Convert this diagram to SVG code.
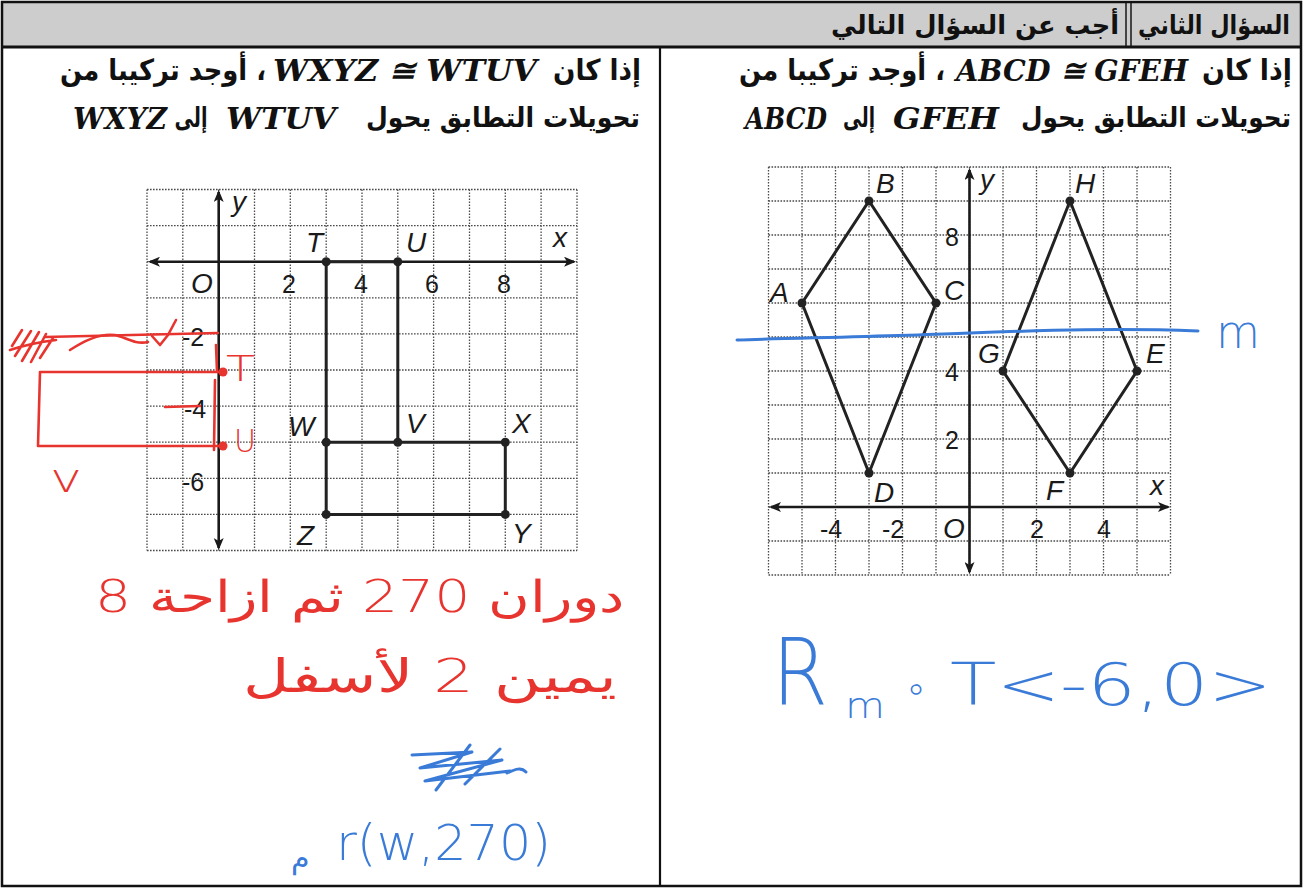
<svg xmlns="http://www.w3.org/2000/svg" width="1304" height="889" viewBox="0 0 1304 889">
<defs>
<marker id="ah" viewBox="0 0 12 10" refX="10" refY="5" markerWidth="12" markerHeight="10" markerUnits="userSpaceOnUse" orient="auto-start-reverse"><path d="M0,0 L12,5 L0,10 L3,5 z" fill="#1a1a1a"/></marker>
</defs>
<style>
.ar{font-family:"DejaVu Sans Condensed","DejaVu Sans",sans-serif;font-weight:bold;fill:#111;direction:rtl;text-anchor:middle}
.lat{font-family:"DejaVu Serif",serif;font-style:italic;font-weight:bold;fill:#111}
.grid{stroke:#4a4a4a;stroke-width:1.3;stroke-dasharray:1.6 1.4;fill:none}
.axis{stroke:#1a1a1a;stroke-width:2.6;fill:none}
.edge{stroke:#222;stroke-width:3;fill:none;stroke-linecap:round}
.dot{fill:#222}
.lbl{font-family:"Liberation Sans",Arial,sans-serif;font-style:italic;font-size:28px;fill:#1a1a1a}
.num{font-family:"Liberation Sans",Arial,sans-serif;font-size:25px;fill:#1a1a1a}
.red{stroke:#e8342f;stroke-width:2.6;fill:none;stroke-linecap:round;stroke-linejoin:round}
.redt{font-family:"DejaVu Sans",sans-serif;font-weight:200;fill:#e8342f}
.blue{stroke:#3b7bd8;stroke-width:3;fill:none;stroke-linecap:round;stroke-linejoin:round}
.bluet{font-family:"DejaVu Sans",sans-serif;font-weight:200;fill:#3b7bd8}
.frame{stroke:#111;fill:none}
</style>
<rect x="0" y="0" width="1304" height="889" fill="#ffffff"/>

<g id="header">
<rect x="3" y="3" width="1297" height="43" fill="#cdcdcd"/>
<line x1="1126" y1="3" x2="1126" y2="46" stroke="#222" stroke-width="1.6"/>
<line x1="1131" y1="3" x2="1131" y2="46" stroke="#222" stroke-width="1.6"/>
<text class="ar" x="1214" y="34" font-size="26" textLength="152" lengthAdjust="spacingAndGlyphs">السؤال الثاني</text>
<text class="ar" x="975" y="34" font-size="26" textLength="288" lengthAdjust="spacingAndGlyphs">أجب عن السؤال التالي</text>
</g>

<g id="frame">
<rect class="frame" x="2" y="2" width="1299" height="884" stroke-width="2.5"/>
<line x1="2" y1="47" x2="1301" y2="47" stroke="#111" stroke-width="3"/>
<line x1="660" y1="47" x2="660" y2="886" stroke="#111" stroke-width="2.2"/>
</g>

<g id="question-left">
<text class="ar" x="597" y="80" font-size="29" textLength="88" lengthAdjust="spacingAndGlyphs">إذا كان</text>
<text class="lat" x="273" y="81" font-size="30" textLength="264" lengthAdjust="spacingAndGlyphs">WXYZ ≅ WTUV</text>
<text class="ar" x="163" y="80" font-size="29" textLength="206" lengthAdjust="spacingAndGlyphs">، أوجد تركيبا من</text>
<text class="ar" x="503" y="127" font-size="27" textLength="274" lengthAdjust="spacingAndGlyphs">تحويلات التطابق يحول</text>
<text class="lat" x="226" y="129" font-size="30" textLength="110" lengthAdjust="spacingAndGlyphs">WTUV</text>
<text class="ar" x="191" y="127" font-size="27" textLength="33" lengthAdjust="spacingAndGlyphs">إلى</text>
<text class="lat" x="73" y="129" font-size="30" textLength="94" lengthAdjust="spacingAndGlyphs">WXYZ</text>
</g>

<g id="question-right">
<text class="ar" x="1247" y="80" font-size="29" textLength="90" lengthAdjust="spacingAndGlyphs">إذا كان</text>
<text class="lat" x="956" y="81" font-size="30" textLength="232" lengthAdjust="spacingAndGlyphs">ABCD ≅ GFEH</text>
<text class="ar" x="842" y="80" font-size="29" textLength="206" lengthAdjust="spacingAndGlyphs">، أوجد تركيبا من</text>
<text class="ar" x="1156" y="127" font-size="27" textLength="270" lengthAdjust="spacingAndGlyphs">تحويلات التطابق يحول</text>
<text class="lat" x="893" y="129" font-size="30" textLength="106" lengthAdjust="spacingAndGlyphs">GFEH</text>
<text class="ar" x="859" y="127" font-size="27" textLength="32" lengthAdjust="spacingAndGlyphs">إلى</text>
<text class="lat" x="745" y="129" font-size="30" textLength="82" lengthAdjust="spacingAndGlyphs">ABCD</text>
</g>

<g id="grid-left">
<path class="grid" d="M147,189.5V550.5M182.8,189.5V550.5M218.7,189.5V550.5M254.5,189.5V550.5M290.3,189.5V550.5M326.2,189.5V550.5M362,189.5V550.5M397.8,189.5V550.5M433.6,189.5V550.5M469.5,189.5V550.5M505.3,189.5V550.5M541.1,189.5V550.5M577,189.5V550.5M147,189.5H577M147,225.6H577M147,261.7H577M147,297.8H577M147,333.9H577M147,370H577M147,406.1H577M147,442.2H577M147,478.3H577M147,514.4H577M147,550.5H577"/>
<path class="axis" d="M150,261.7H574" marker-start="url(#ah)" marker-end="url(#ah)"/>
<path class="axis" d="M218.7,192V548" marker-start="url(#ah)" marker-end="url(#ah)"/>
<text class="lbl" x="232" y="211">y</text>
<text class="lbl" x="553" y="247">x</text>
<text class="lbl" x="191" y="293">O</text>
<text class="num" x="282" y="293">2</text>
<text class="num" x="354" y="293">4</text>
<text class="num" x="425" y="293">6</text>
<text class="num" x="497" y="293">8</text>
<text class="num" x="182" y="346">-2</text>
<text class="num" x="184" y="418">-4</text>
<text class="num" x="182" y="491">-6</text>
</g>

<g id="grid-right">
<path class="grid" d="M768.5,167V575M802,167V575M835.5,167V575M869,167V575M902.5,167V575M936,167V575M969.5,167V575M1003,167V575M1036.5,167V575M1070,167V575M1103.5,167V575M1137,167V575M1170.5,167V575M768.5,167H1170.5M768.5,201H1170.5M768.5,235H1170.5M768.5,269H1170.5M768.5,303H1170.5M768.5,337H1170.5M768.5,371H1170.5M768.5,405H1170.5M768.5,439H1170.5M768.5,473H1170.5M768.5,507H1170.5M768.5,541H1170.5M768.5,575H1170.5"/>
<path class="axis" d="M771,507H1168" marker-start="url(#ah)" marker-end="url(#ah)"/>
<path class="axis" d="M969.5,170V572" marker-start="url(#ah)" marker-end="url(#ah)"/>
<text class="lbl" x="980" y="189">y</text>
<text class="lbl" x="1150" y="495">x</text>
<text class="num" x="945" y="246">8</text>
<text class="num" x="945" y="381">4</text>
<text class="num" x="945" y="449">2</text>
<text class="num" x="820" y="538">-4</text>
<text class="num" x="882" y="538">-2</text>
<text class="lbl" x="943" y="538">O</text>
<text class="num" x="1030" y="538">2</text>
<text class="num" x="1097" y="538">4</text>
</g>

<g id="connectors">
<path class="edge" d="M326.2,261.7H397.8V442.2H505.3V514.4H326.2Z"/>
<path class="edge" d="M326.2,442.2H397.8"/>
<path class="edge" d="M802,303L869,201L936,303L869,473Z"/>
<path class="edge" d="M1003,371L1070,201L1137,371L1070,473Z"/>
</g>

<g id="node-T"><circle class="dot" cx="326.2" cy="261.7" r="4.5"/><text class="lbl" x="306" y="252">T</text></g>
<g id="node-U"><circle class="dot" cx="397.8" cy="261.7" r="4.5"/><text class="lbl" x="406" y="252">U</text></g>
<g id="node-W"><circle class="dot" cx="326.2" cy="442.2" r="4.5"/><text class="lbl" x="288" y="436">W</text></g>
<g id="node-V"><circle class="dot" cx="397.8" cy="442.2" r="4.5"/><text class="lbl" x="406" y="433">V</text></g>
<g id="node-X"><circle class="dot" cx="505.3" cy="442.2" r="4.5"/><text class="lbl" x="512" y="433">X</text></g>
<g id="node-Y"><circle class="dot" cx="505.3" cy="514.4" r="4.5"/><text class="lbl" x="512" y="543">Y</text></g>
<g id="node-Z"><circle class="dot" cx="326.2" cy="514.4" r="4.5"/><text class="lbl" x="297" y="545">Z</text></g>

<g id="node-A"><circle class="dot" cx="802" cy="303" r="4.5"/><text class="lbl" x="770" y="302">A</text></g>
<g id="node-B"><circle class="dot" cx="869" cy="201" r="4.5"/><text class="lbl" x="876" y="193">B</text></g>
<g id="node-C"><circle class="dot" cx="936" cy="303" r="4.5"/><text class="lbl" x="944" y="300">C</text></g>
<g id="node-D"><circle class="dot" cx="869" cy="473" r="4.5"/><text class="lbl" x="874" y="502">D</text></g>
<g id="node-G"><circle class="dot" cx="1003" cy="371" r="4.5"/><text class="lbl" x="978" y="363">G</text></g>
<g id="node-H"><circle class="dot" cx="1070" cy="201" r="4.5"/><text class="lbl" x="1075" y="193">H</text></g>
<g id="node-E"><circle class="dot" cx="1137" cy="371" r="4.5"/><text class="lbl" x="1146" y="363">E</text></g>
<g id="node-F"><circle class="dot" cx="1070" cy="473" r="4.5"/><text class="lbl" x="1046" y="500">F</text></g>

<g id="line-m">
<path class="blue" d="M737,340C800,338 900,336 970,333C1050,330 1120,328 1198,331"/>
<text class="bluet" x="1216" y="348" font-size="46" textLength="44" lengthAdjust="spacingAndGlyphs">m</text>
</g>

<g id="red-notes">
<path class="red" d="M12,346L22,330M15,356L31,331M22,361L39,332M31,362L46,334M40,358L53,338M10,350C25,345 40,342 56,340"/>
<path class="red" d="M45,337L218,333"/>
<path class="red" d="M70,350C85,340 100,333 115,335C125,337 135,345 148,342M152,336L160,345L168,335L176,320"/>
<path class="red" d="M40,372L222,372M40,372L38,446M38,446L222,446M165,407L200,406M216,345L217,372M215,380L214,450"/>
<circle cx="223" cy="372" r="4.5" fill="#e8342f"/>
<circle cx="223" cy="446" r="4.5" fill="#e8342f"/>
<text class="redt" x="226" y="381" font-size="36" textLength="29" lengthAdjust="spacingAndGlyphs">T</text>
<text class="redt" x="234" y="452" font-size="32" textLength="22" lengthAdjust="spacingAndGlyphs">U</text>
<text class="redt" x="50" y="492" font-size="40" textLength="32" lengthAdjust="spacingAndGlyphs">v</text>
<text class="redt" x="360" y="612" font-size="44" direction="rtl" text-anchor="middle" textLength="530" lengthAdjust="spacingAndGlyphs">دوران 270 ثم ازاحة 8</text>
<text class="redt" x="430" y="692" font-size="46" direction="rtl" text-anchor="middle" textLength="375" lengthAdjust="spacingAndGlyphs">يمين 2 لأسفل</text>
</g>

<g id="blue-notes-left">
<path class="blue" stroke-width="2.5" d="M412,755L472,752L420,768L502,760L425,781L510,771M436,790L470,745M465,784L500,749M507,773C516,769 521,767 526,772"/>
<text class="bluet" x="336" y="860" font-size="50" textLength="215" lengthAdjust="spacingAndGlyphs">r(w,270)</text>
<text class="bluet" x="300" y="868" font-size="30" text-anchor="middle" direction="rtl">م</text>
</g>

<g id="blue-notes-right">
<text class="bluet" x="772" y="705" font-size="92" textLength="56" lengthAdjust="spacingAndGlyphs">R</text>
<text class="bluet" x="845" y="718" font-size="36" textLength="40" lengthAdjust="spacingAndGlyphs">m</text>
<text class="bluet" x="916" y="702" font-size="40" text-anchor="middle">∘</text>
<text class="bluet" x="950" y="705" font-size="58" textLength="322" lengthAdjust="spacingAndGlyphs">T&lt;-6,0&gt;</text>
</g>
</svg>
